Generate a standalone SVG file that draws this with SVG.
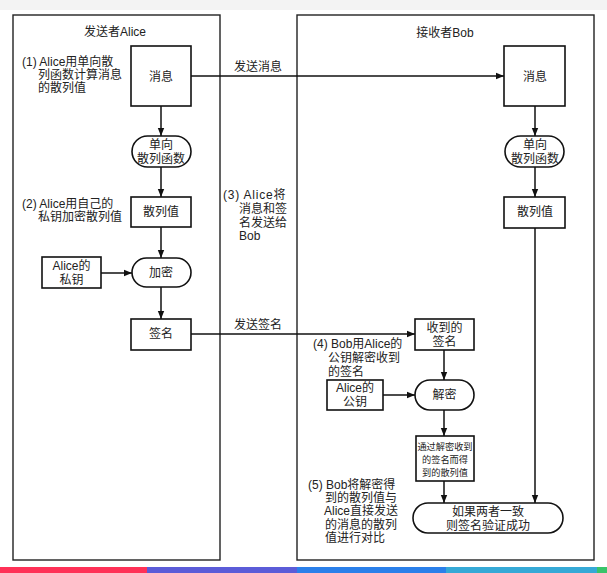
<svg xmlns="http://www.w3.org/2000/svg" width="607" height="573" viewBox="0 0 607 573">
<style>
text{font-family:"Liberation Sans","Noto Sans CJK SC",sans-serif;font-size:12px;fill:#222}
.c{text-anchor:middle}
.box{fill:#fff;stroke:#111;stroke-width:1.6}
.panel{fill:none;stroke:#222;stroke-width:1.4}
.ln{fill:none;stroke:#111;stroke-width:1.5}
.s{font-size:9.2px}
</style>
<defs>
<marker id="ar" viewBox="0 0 10 10" refX="10" refY="5" markerWidth="8" markerHeight="8" markerUnits="userSpaceOnUse" orient="auto">
<path d="M0,1 L10,5 L0,9 Z" fill="#111"/>
</marker>
</defs>
<rect x="0" y="0" width="607" height="573" fill="#fff"/>
<rect x="0" y="0" width="607" height="10" fill="#f3f3f3"/>

<g id="panel-alice">
<rect class="panel" x="13" y="15" width="207" height="545"/>
<text class="c" x="115" y="36">发送者Alice</text>
</g>
<g id="panel-bob">
<rect class="panel" x="297" y="15" width="297" height="545"/>
<text class="c" x="445" y="37">接收者Bob</text>
</g>

<g id="notes">
<text x="22" y="66">(1) Alice用单向散</text>
<text x="38" y="79">列函数计算消息</text>
<text x="38" y="92">的散列值</text>
<text x="22" y="208">(2) Alice用自己的</text>
<text x="38" y="221">私钥加密散列值</text>
<text x="223" y="199" letter-spacing="0.8">(3) Alice将</text>
<text x="239" y="213">消息和签</text>
<text x="239" y="227">名发送给</text>
<text x="239" y="240">Bob</text>
<text x="313" y="348">(4) Bob用Alice的</text>
<text x="328" y="362">公钥解密收到</text>
<text x="328" y="376">的签名</text>
<text x="308" y="489">(5) Bob将解密得</text>
<text x="325" y="502">到的散列值与</text>
<text x="324" y="515">Alice直接发送</text>
<text x="325" y="529">的消息的散列</text>
<text x="325" y="542">值进行对比</text>
</g>

<g id="connectors">
<path class="ln" d="M191,76 H504" marker-end="url(#ar)"/>
<text class="c" x="258" y="71">发送消息</text>
<path class="ln" d="M191,334 H415" marker-end="url(#ar)"/>
<text class="c" x="258" y="329">发送签名</text>
<path class="ln" d="M161,106 V136" marker-end="url(#ar)"/>
<path class="ln" d="M161,167 V197" marker-end="url(#ar)"/>
<path class="ln" d="M161,227 V258" marker-end="url(#ar)"/>
<path class="ln" d="M101,273 H132" marker-end="url(#ar)"/>
<path class="ln" d="M161,287 V319" marker-end="url(#ar)"/>
<path class="ln" d="M535,106 V136" marker-end="url(#ar)"/>
<path class="ln" d="M535,167 V197" marker-end="url(#ar)"/>
<path class="ln" d="M535,228 V503" marker-end="url(#ar)"/>
<path class="ln" d="M444,350 V380" marker-end="url(#ar)"/>
<path class="ln" d="M383,395 H415" marker-end="url(#ar)"/>
<path class="ln" d="M444,410 V436" marker-end="url(#ar)"/>
<path class="ln" d="M444,481 V503" marker-end="url(#ar)"/>
</g>

<g id="a-msg"><rect class="box" x="131" y="46" width="60" height="60"/><text class="c" x="161" y="81">消息</text></g>
<g id="a-hash"><rect class="box" x="132" y="136" width="59" height="31" rx="15.5"/><text class="c" x="161" y="149">单向</text><text class="c" x="161" y="163">散列函数</text></g>
<g id="a-val"><rect class="box" x="131" y="197" width="60" height="30"/><text class="c" x="161" y="216">散列值</text></g>
<g id="a-key"><rect class="box" x="42" y="257" width="59" height="31"/><text class="c" x="71.5" y="270">Alice的</text><text class="c" x="71.5" y="284">私钥</text></g>
<g id="a-enc"><rect class="box" x="132" y="258" width="59" height="29" rx="14.5"/><text class="c" x="161" y="277">加密</text></g>
<g id="a-sig"><rect class="box" x="131" y="319" width="60" height="31"/><text class="c" x="161" y="338">签名</text></g>

<g id="b-msg"><rect class="box" x="504" y="46" width="61" height="60"/><text class="c" x="535" y="81">消息</text></g>
<g id="b-hash"><rect class="box" x="505" y="136" width="59" height="31" rx="15.5"/><text class="c" x="535" y="149">单向</text><text class="c" x="535" y="163">散列函数</text></g>
<g id="b-val"><rect class="box" x="504" y="197" width="61" height="31"/><text class="c" x="535" y="216">散列值</text></g>
<g id="b-sig"><rect class="box" x="415" y="319" width="59" height="31"/><text class="c" x="444.5" y="332">收到的</text><text class="c" x="444.5" y="346">签名</text></g>
<g id="b-key"><rect class="box" x="327" y="380" width="56" height="30"/><text class="c" x="355" y="392">Alice的</text><text class="c" x="355" y="406">公钥</text></g>
<g id="b-dec"><rect class="box" x="415" y="380" width="59" height="30" rx="15"/><text class="c" x="444.5" y="399">解密</text></g>
<g id="b-dval"><rect class="box" x="416" y="436" width="58" height="45" stroke-width="2"/><text class="c s" x="445" y="450">通过解密收到</text><text class="c s" x="445" y="463">的签名而得</text><text class="c s" x="445" y="476">到的散列值</text></g>
<g id="b-result"><rect class="box" x="413" y="503" width="150" height="30" rx="15"/><text class="c" x="488" y="516">如果两者一致</text><text class="c" x="488" y="530">则签名验证成功</text></g>

<g id="bottom-bar">
<rect x="0" y="567" width="147" height="6" fill="#ff3157"/>
<rect x="147" y="567" width="150" height="6" fill="#5b5cd8"/>
<rect x="297" y="567" width="149" height="6" fill="#2b80ea"/>
<rect x="446" y="567" width="151" height="6" fill="#36a9d6"/>
<rect x="597" y="567" width="10" height="6" fill="#39c46a"/>
</g>
</svg>
